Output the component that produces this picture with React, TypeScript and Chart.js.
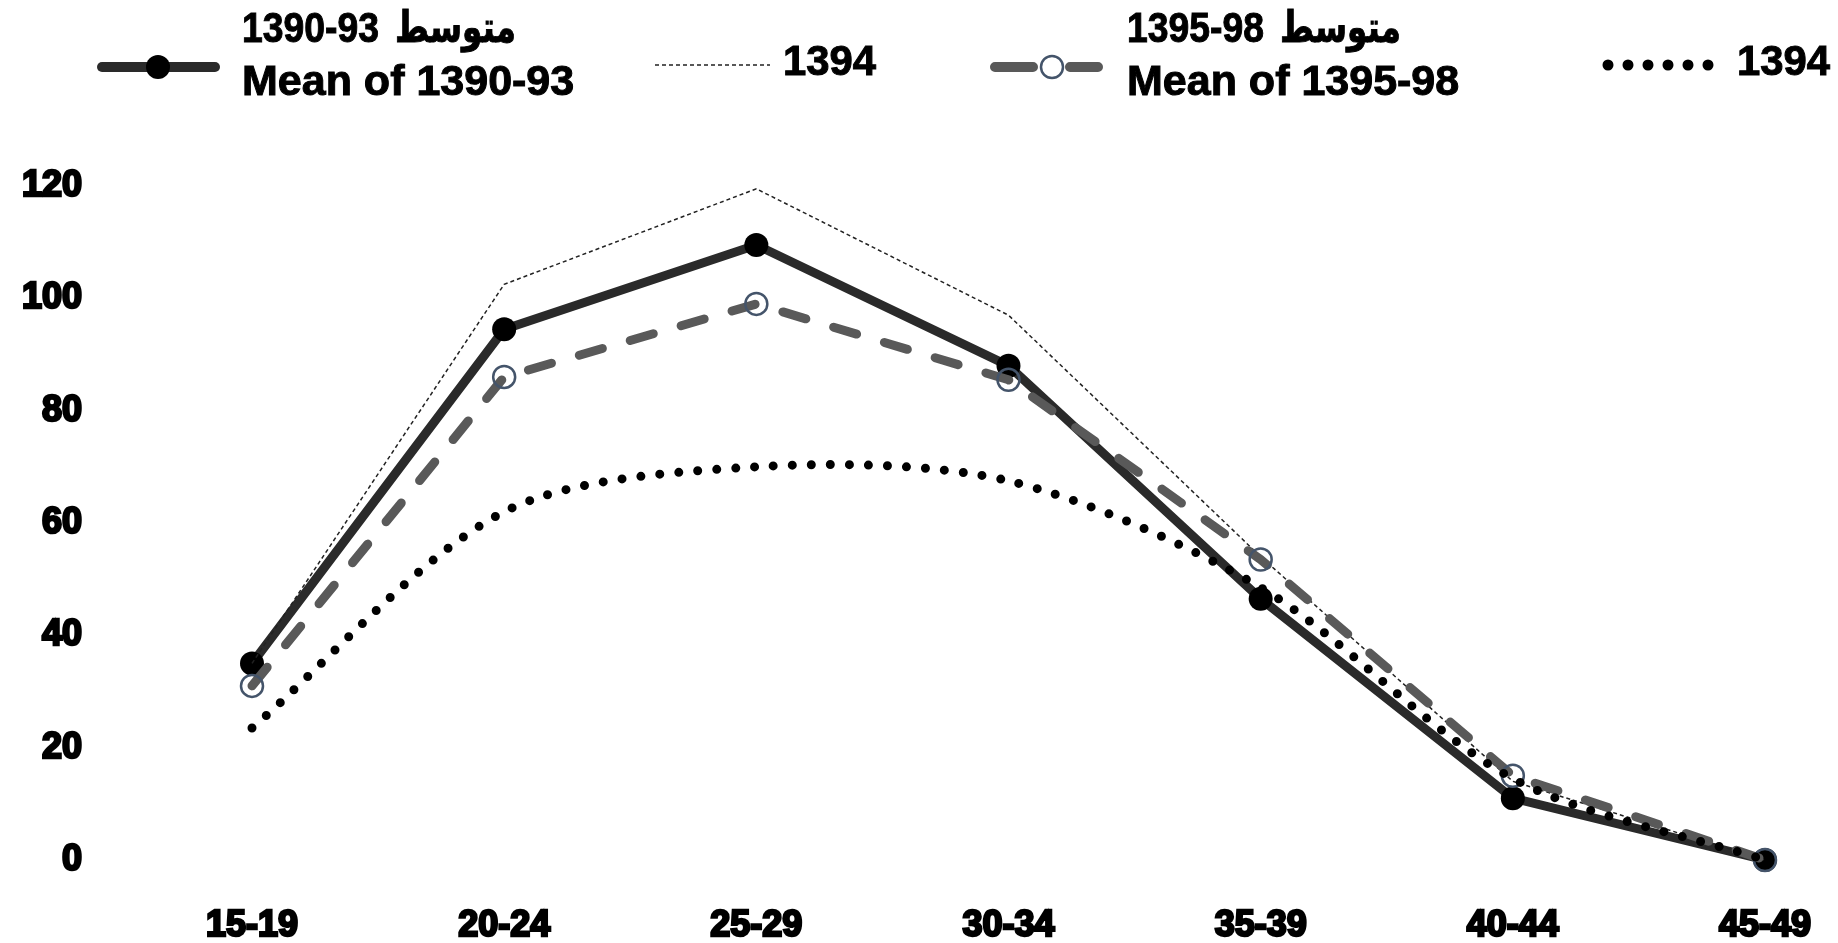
import React, { useEffect, useRef } from 'react';
import { Chart, registerables } from 'chart.js';

Chart.register(...registerables);

// ---- data ----
const ageGroups = ['15-19', '20-24', '25-29', '30-34', '35-39', '40-44', '45-49'];
const mean1390to93 = [35, 94.5, 109.5, 88, 46.5, 11, 0];
const year1394Dashed = [35, 102.5, 119.5, 97, 54, 14, 0];
const mean1395to98 = [31, 86, 99, 85.5, 53.5, 15, 0];
const year1394Dotted = [23.5, 62, 70, 67.5, 48.5, 14.5, 0];
const yMin = 0;
const yMax = 120;
const yStep = 20;

const legendArabic = 'متوسط';
const legendPeriod1 = '1390-93';
const legendPeriod2 = '1395-98';
const legendMean1 = 'Mean of 1390-93';
const legendMean2 = 'Mean of 1395-98';
const legendYear = '1394';

const FONT = '"Liberation Sans", "DejaVu Sans", sans-serif';

const legendPlugin = {
  id: 'customLegend',
  afterDraw(chart: any) {
    const ctx: CanvasRenderingContext2D = chart.ctx;
    ctx.save();
    ctx.lineCap = 'round';
    ctx.setLineDash([]);
    ctx.strokeStyle = '#2a2a2a';
    ctx.lineWidth = 10;
    ctx.beginPath();
    ctx.moveTo(102, 67);
    ctx.lineTo(215, 67);
    ctx.stroke();
    ctx.fillStyle = '#000';
    ctx.beginPath();
    ctx.arc(158, 67, 12, 0, Math.PI * 2);
    ctx.fill();

    ctx.lineCap = 'butt';
    ctx.strokeStyle = '#222';
    ctx.lineWidth = 1.5;
    ctx.setLineDash([4, 3]);
    ctx.beginPath();
    ctx.moveTo(655, 65);
    ctx.lineTo(770, 65);
    ctx.stroke();

    ctx.setLineDash([]);
    ctx.lineCap = 'round';
    ctx.strokeStyle = '#595959';
    ctx.lineWidth = 10;
    ctx.beginPath();
    ctx.moveTo(995, 67);
    ctx.lineTo(1033, 67);
    ctx.moveTo(1070, 67);
    ctx.lineTo(1098, 67);
    ctx.stroke();
    ctx.beginPath();
    ctx.arc(1052, 67, 11, 0, Math.PI * 2);
    ctx.fillStyle = '#fff';
    ctx.fill();
    ctx.strokeStyle = '#44546a';
    ctx.lineWidth = 2.5;
    ctx.stroke();

    ctx.strokeStyle = '#000';
    ctx.lineWidth = 11;
    ctx.lineCap = 'round';
    ctx.setLineDash([0, 20]);
    ctx.beginPath();
    ctx.moveTo(1608, 65);
    ctx.lineTo(1712, 65);
    ctx.stroke();
    ctx.setLineDash([]);

    ctx.fillStyle = '#000';
    ctx.strokeStyle = '#000';
    ctx.lineWidth = 1;
    ctx.textAlign = 'left';
    ctx.textBaseline = 'alphabetic';
    ctx.font = `bold 43px ${FONT}`;
    const txt = (s: string, x: number, y: number, w: number) => {
      ctx.fillText(s, x, y, w);
      ctx.strokeText(s, x, y, w);
    };
    const drawTwoLine = (x: number, period: string, mean: string) => {
      txt(period, x, 42, 137);
      txt(legendArabic, x + 153, 42, 121);
      txt(mean, x, 95, 338);
    };
    drawTwoLine(242, legendPeriod1, legendMean1);
    drawTwoLine(1127, legendPeriod2, legendMean2);
    txt(legendYear, 783, 75, 93);
    txt(legendYear, 1737, 75, 93);
    ctx.restore();
  },
};

export default function App() {
  const canvasRef = useRef<HTMLCanvasElement | null>(null);

  useEffect(() => {
    const canvas = canvasRef.current;
    if (!canvas) return;
    const tickFont = { family: FONT, weight: 'bold' as const, size: 36 };
    const chart = new Chart(canvas, {
      type: 'line',
      data: {
        labels: ageGroups,
        datasets: [
          {
            label: legendMean1,
            data: mean1390to93,
            borderColor: '#2a2a2a',
            borderWidth: 9,
            pointRadius: 12,
            pointBackgroundColor: '#000',
            pointBorderColor: '#000',
            pointBorderWidth: 0,
            tension: 0,
            order: 4,
            clip: false,
          },
          {
            label: legendYear,
            data: year1394Dashed,
            borderColor: '#222',
            borderWidth: 1.5,
            borderDash: [4, 3],
            pointRadius: 0,
            tension: 0,
            order: 3,
            clip: false,
          },
          {
            label: legendMean2,
            data: mean1395to98,
            borderColor: '#595959',
            borderWidth: 9,
            borderDash: [24, 29],
            borderCapStyle: 'round',
            pointRadius: 11,
            pointBorderColor: '#44546a',
            pointBorderWidth: 2.5,
            pointBackgroundColor: 'rgba(0,0,0,0)',
            tension: 0,
            order: 2,
            clip: false,
          },
          {
            label: legendYear,
            data: year1394Dotted,
            borderColor: '#000',
            borderWidth: 9,
            borderDash: [0, 19],
            borderCapStyle: 'round',
            pointRadius: 0,
            tension: 0.3,
            order: 1,
            clip: false,
          },
        ],
      },
      options: {
        responsive: false,
        maintainAspectRatio: false,
        animation: false,
        layout: { padding: { top: 186, right: 73, bottom: 0, left: 0 } },
        plugins: {
          legend: { display: false },
          tooltip: { enabled: false },
        },
        scales: {
          x: {
            offset: false,
            grid: { display: false, drawTicks: false },
            border: { display: false },
            ticks: {
              font: tickFont,
              color: '#000',
              padding: 44,
              maxRotation: 0,
              autoSkip: false,
              textStrokeColor: '#000',
              textStrokeWidth: 2.5,
            } as any,
            afterFit: (scale: any) => {
              scale.height = 83;
              scale.paddingLeft = 0;
              scale.paddingRight = 0;
            },
          },
          y: {
            min: yMin,
            max: yMax,
            grid: { display: false, drawTicks: false },
            border: { display: false },
            ticks: {
              stepSize: yStep,
              font: tickFont,
              color: '#000',
              padding: 170,
              textStrokeColor: '#000',
              textStrokeWidth: 2.5,
            } as any,
            afterFit: (scale: any) => {
              scale.width = 252;
              scale.paddingTop = 0;
              scale.paddingBottom = 0;
            },
          },
        },
      },
      plugins: [legendPlugin],
    } as any);
    return () => chart.destroy();
  }, []);

  return (
    <div style={{ position: 'fixed', left: 0, top: 0, width: 1838, height: 943, background: '#fff' }}>
      <canvas ref={canvasRef} width={1838} height={943} style={{ display: 'block' }} />
    </div>
  );
}
